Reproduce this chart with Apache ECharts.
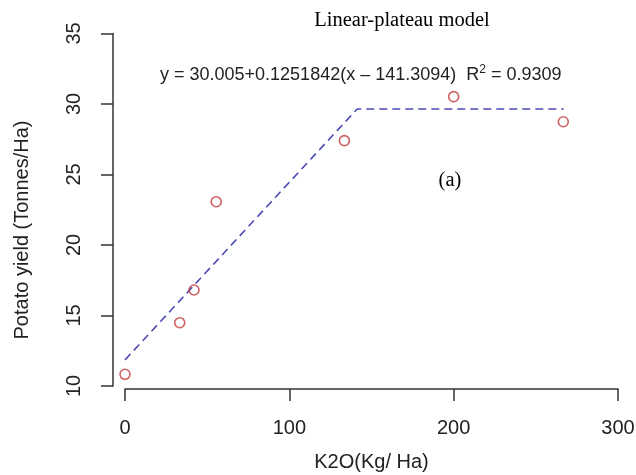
<!DOCTYPE html>
<html>
<head>
<meta charset="utf-8">
<script src="https://cdn.jsdelivr.net/npm/echarts@6/dist/echarts.min.js"></script>
<style>
html,body{margin:0;padding:0;background:#fff;}
#chart{width:636px;height:475px;}
</style>
</head>
<body>
<div id="chart"></div>
<script>
// Observed data (K2O dose in kg/ha, potato yield in t/ha)
var k2oDose = [0, 33.3, 42, 55.5, 133.5, 200, 266.7];
var potatoYield = [10.83, 14.49, 16.81, 23.07, 27.4, 30.52, 28.74];
// Fitted linear-plateau line as drawn (x, y)
var fitX = [0, 141.3, 267];
var fitY = [11.85, 29.65, 29.65];
// Axis ticks
var xTicks = [0, 100, 200, 300];
var yTicks = [10, 15, 20, 25, 30, 35];

var titleText = 'Linear-plateau model';
var eqMain = 'y = 30.005+0.1251842(x \u2013 141.3094)  R';
var eqSup = '2';
var eqEnd = ' = 0.9309';
var panelLabel = '(a)';
var xName = 'K2O(Kg/ Ha)';
var yName = 'Potato yield (Tonnes/Ha)';

var chart = echarts.init(document.getElementById('chart'), null, {renderer: 'canvas'});
var sans = '"Liberation Sans", Arial, sans-serif';
var serif = '"Liberation Serif", "Times New Roman", serif';
var axisColor = '#333';

var option = {
  backgroundColor: '#fff',
  animation: false,
  grid: {left: 125, top: 33.5, width: 493, height: 352.5, containLabel: false, outerBoundsMode: 'none'},
  xAxis: {
    type: 'value', min: xTicks[0], max: xTicks[xTicks.length - 1], interval: 100,
    offset: 3,
    name: xName, nameLocation: 'middle', nameGap: 63,
    nameTextStyle: {fontFamily: sans, fontSize: 20, color: '#222'},
    axisLine: {show: true, onZero: false, lineStyle: {color: axisColor, width: 1.5}},
    axisTick: {show: true, length: 12, lineStyle: {color: axisColor, width: 1.5}},
    axisLabel: {margin: 29, fontFamily: sans, fontSize: 20, color: '#222'},
    splitLine: {show: false}
  },
  yAxis: {
    type: 'value', min: yTicks[0], max: yTicks[yTicks.length - 1], interval: 5,
    offset: 12,
    axisLine: {show: true, onZero: false, lineStyle: {color: axisColor, width: 1.5}},
    axisTick: {show: true, length: 12, lineStyle: {color: axisColor, width: 1.5}},
    axisLabel: {rotate: 90, margin: 29, fontFamily: sans, fontSize: 20, color: '#222'},
    splitLine: {show: false}
  },
  graphic: [
    {type: 'text', x: 402, y: 21,
      style: {text: titleText, font: '20.5px ' + serif, fill: '#000', textAlign: 'center', textVerticalAlign: 'middle'}},
    {type: 'text', x: 160, y: 75,
      style: {
        text: '{m|' + eqMain + '}{s|' + eqSup + '}{m|' + eqEnd + '}',
        textVerticalAlign: 'middle',
        rich: {
          m: {fontFamily: sans, fontSize: 18, fill: '#222', color: '#222'},
          s: {fontFamily: sans, fontSize: 12, fill: '#222', color: '#222', verticalAlign: 'top', padding: [0, 0, 10, 0]}
        }
      }},
    {type: 'text', x: 450, y: 181,
      style: {text: panelLabel, font: '20.5px ' + serif, fill: '#000', textAlign: 'center', textVerticalAlign: 'middle'}},
    {type: 'text', x: 22, y: 230, rotation: Math.PI / 2,
      style: {text: yName, font: '20px ' + sans, fill: '#222', textAlign: 'center', textVerticalAlign: 'middle'}}
  ],
  series: [
    {
      type: 'line',
      data: fitX.map(function (x, i) { return [x, fitY[i]]; }),
      symbol: 'none',
      lineStyle: {color: '#4b4bb5', width: 1.6, type: [8, 5]},
      z: 2
    },
    {
      type: 'scatter',
      data: k2oDose.map(function (x, i) { return [x, potatoYield[i]]; }),
      symbol: 'circle', symbolSize: 10,
      itemStyle: {color: 'rgba(255,255,255,0)', borderColor: '#c23a3a', borderWidth: 1.6},
      z: 3
    }
  ]
};
chart.setOption(option);
</script>
</body>
</html>
